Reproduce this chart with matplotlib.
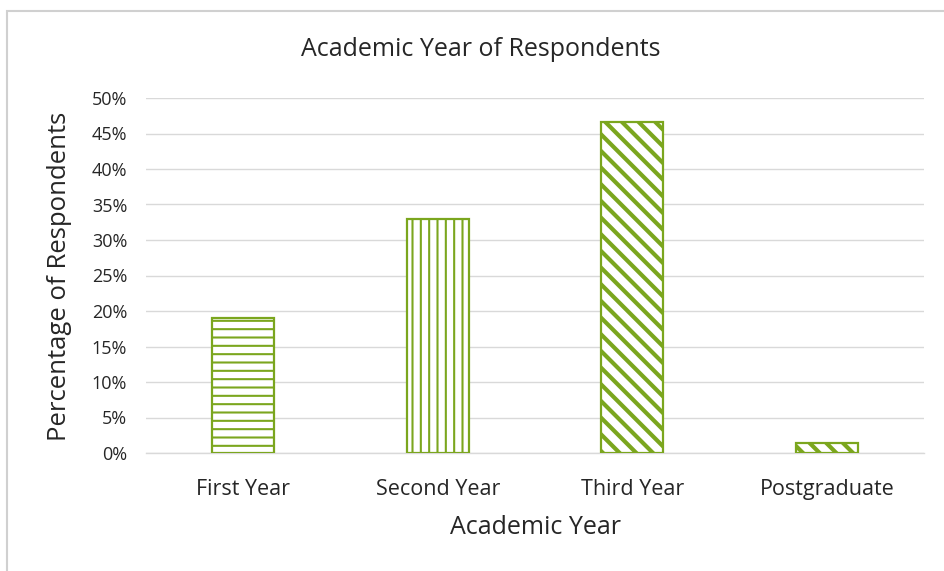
import matplotlib
matplotlib.use('Agg')
import matplotlib.pyplot as plt
from matplotlib.patches import Rectangle
from matplotlib.ticker import PercentFormatter

categories = ['First Year', 'Second Year', 'Third Year', 'Postgraduate']
percentages = [19.0, 33.0, 46.6, 1.4]
hatches = ['--', '||', '\\\\', '\\\\']
yticks = [0, 5, 10, 15, 20, 25, 30, 35, 40, 45, 50]

green = '#7BA61E'
grid_gray = '#D9D9D9'
text_color = '#262626'

plt.rcParams['font.family'] = ['Open Sans', 'DejaVu Sans']

W, H = 944, 571
fig = plt.figure(figsize=(W / 100, H / 100), dpi=100)
ax = fig.add_axes([146 / W, 1 - 453 / H, (924 - 146) / W, (453 - 98) / H])

# outer chart frame (cut off at right/bottom like the screenshot)
fig.patches.append(Rectangle((7 / W, -0.1), 1.2, 1 - 11 / H + 0.1,
                             transform=fig.transFigure, fill=False,
                             edgecolor='#D0D0D0', linewidth=1.5))

x = range(len(categories))
bars = ax.bar(x, percentages, width=0.32, color='white', edgecolor=green,
              linewidth=1.6, zorder=3)
for bar, h in zip(bars, hatches):
    bar.set_hatch(h)
    if hasattr(bar, 'set_hatch_linewidth'):
        bar.set_hatch_linewidth(3.0 if '\\' in h else 1.5)

ax.set_xlim(-0.5, len(categories) - 0.5)
ax.set_ylim(0, 50)
ax.set_yticks(yticks)
ax.yaxis.set_major_formatter(PercentFormatter(decimals=0))
ax.set_xticks(list(x))
ax.set_xticklabels(categories)

ax.grid(axis='y', color=grid_gray, linewidth=1, zorder=0)
ax.set_axisbelow(True)
for side in ['top', 'right', 'left']:
    ax.spines[side].set_visible(False)
ax.spines['bottom'].set_color(grid_gray)
ax.spines['bottom'].set_linewidth(1)
ax.tick_params(axis='y', length=0, labelsize=13, colors=text_color, pad=13.5)
ax.tick_params(axis='x', length=0, labelsize=15.5, colors=text_color, pad=19)

fig.text(481 / W, 1 - 50 / H, 'Academic Year of Respondents', fontsize=18,
         color=text_color, ha='center', va='center')
fig.text(535 / W, 1 - 528 / H, 'Academic Year', fontsize=18,
         color=text_color, ha='center', va='center')
fig.text(60 / W, 1 - 276 / H, 'Percentage of Respondents', fontsize=18.5,
         color=text_color, ha='center', va='center', rotation=90)

plt.savefig('out.png', dpi=100)
